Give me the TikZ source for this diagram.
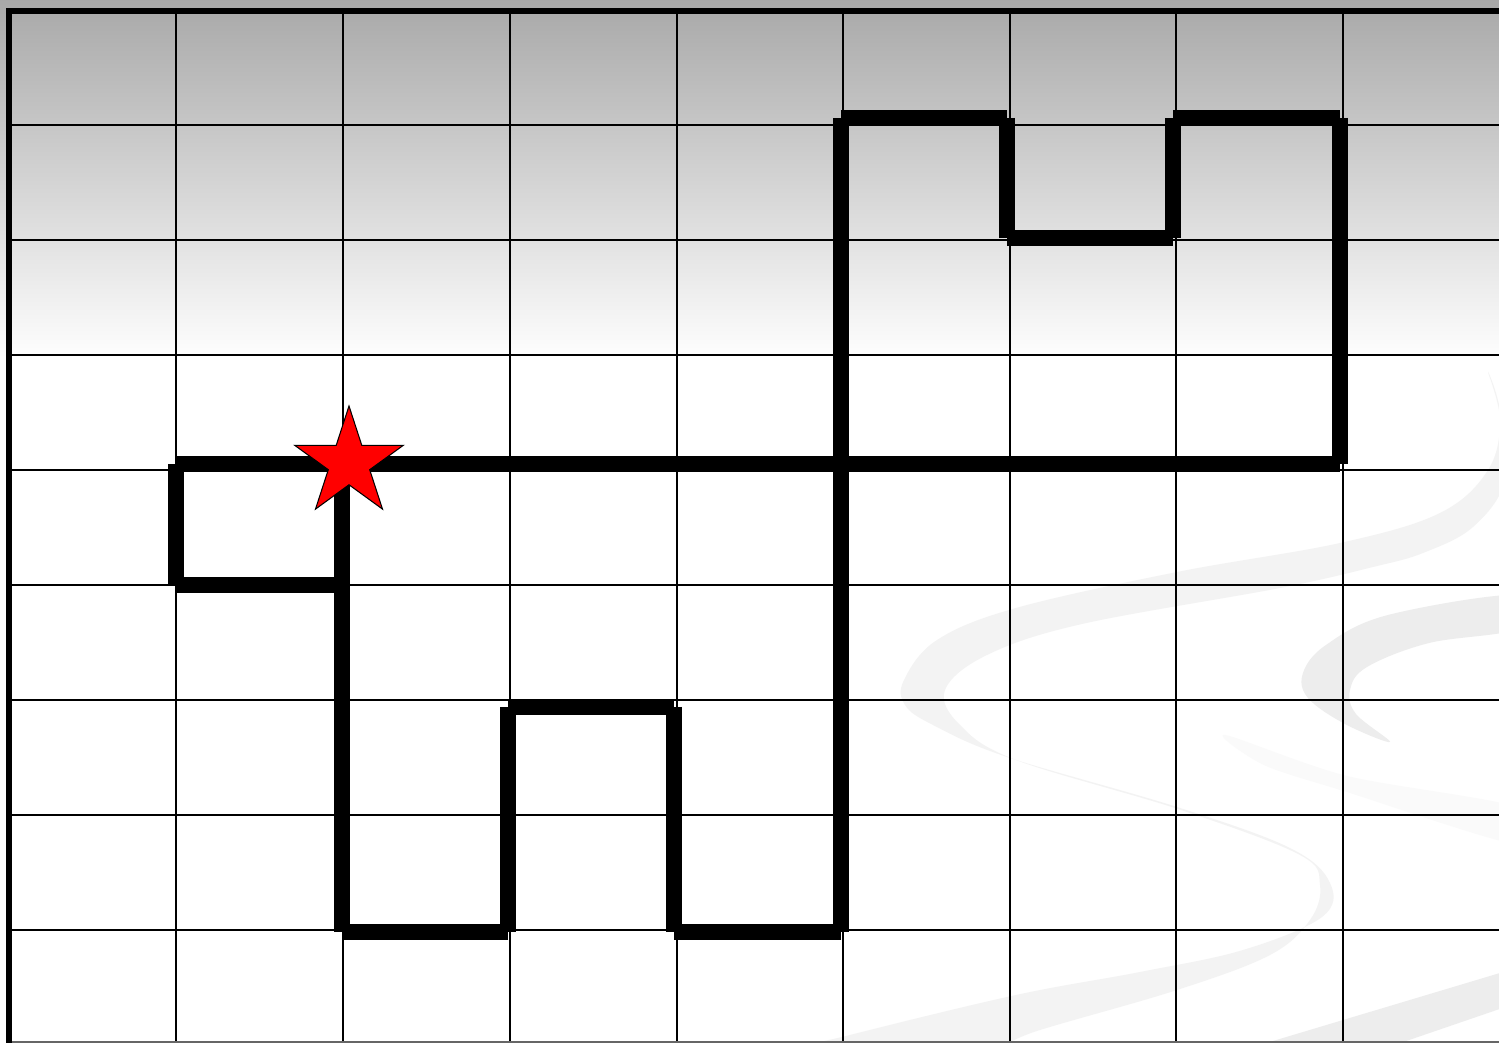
\documentclass[tikz,border=0pt]{standalone}
\usepackage{xcolor}
\usetikzlibrary{shapes.geometric}
\definecolor{mSwoosh}{HTML}{F3F3F3}
\definecolor{mSwooshDark}{HTML}{EDEDED}
\definecolor{mSwooshFaint}{HTML}{FAFAFA}
\begin{document}
\begin{tikzpicture}[x=0.02cm, y=-0.02cm,
  gridline/.style={line width=1.4pt, black},
  frameline/.style={line width=3.4pt, black, line join=miter},
  route/.style={line width=8.8pt, black, line cap=butt},
  swoosh/.style={fill=#1, draw=none},
  swoosh/.default=mSwoosh,
  startmark/.style={star, star points=5, star point ratio=2.618, minimum size=2.28cm,
                    inner sep=0pt, fill=red, draw=black, line width=0.6pt}]
  \useasboundingbox (0,0) rectangle (1499,1043);
  % background: grey fade at the top, white below
  \fill[white] (0,0) rectangle (1499,1043);
  \shade[top color=black!34, bottom color=white] (0,0) rectangle (1499,362);
  % faint swooshes in the lower right
  \begin{scope}
    \clip (9,11) rectangle (1499,1043);
    \fill[swoosh] plot[smooth cycle, tension=0.6] coordinates {
      (1488,372) (1500,420) (1488,470) (1440,513) (1340,543) (1177,572) (1016,608)
      (937,640) (904,680) (905,705) (933,725) (1007,757) (1177,807) (1290,848)
      (1330,883) (1322,917) (1243,950) (1140,972) (1016,995) (850,1035) (760,1060)
      (950,1060) (1040,1030) (1177,990) (1270,955) (1310,920) (1320,885) (1300,855)
      (1181,810) (1016,760) (960,725) (945,690) (987,655) (1082,624) (1280,588)
      (1373,567) (1423,553) (1473,527) (1505,480) (1500,410)};
    \fill[swoosh=mSwooshDark] plot[smooth cycle, tension=0.6] coordinates {
      (1520,595) (1388,615) (1326,645) (1303,673) (1308,698) (1345,724) (1390,742)
      (1356,714) (1350,690) (1367,667) (1429,643) (1520,628)};
    \fill[swoosh=mSwooshFaint] plot[smooth cycle, tension=0.5] coordinates {
      (1225,735) (1347,776) (1520,808) (1520,845) (1347,792) (1264,765)};
    \fill[swoosh=mSwooshDark] (1520,967) -- (1243,1050) -- (1380,1050) -- (1520,1002) -- cycle;
  \end{scope}
  % grid
  \foreach \gx in {176,343,510,677,843,1010,1176,1343}
    \draw[gridline] (\gx,11) -- (\gx,1043);
  \foreach \gy in {125,240,355,470,585,700,815,930}
    \draw[gridline] (9,\gy) -- (1499,\gy);
  \draw[black!60, line width=0.8pt] (9,1042) -- (1499,1042);
  \draw[frameline] (9,1043) -- (9,11) -- (1499,11);
  % corners of the route
  \coordinate (a) at (176,464);
  \coordinate (b) at (176,585);
  \coordinate (c) at (342,585);
  \coordinate (s) at (342,464);
  \coordinate (d) at (342,932);
  \coordinate (e) at (508,932);
  \coordinate (f) at (508,707);
  \coordinate (g) at (674,707);
  \coordinate (h) at (674,932);
  \coordinate (i) at (841,932);
  \coordinate (j) at (841,118);
  \coordinate (k) at (1007,118);
  \coordinate (l) at (1007,238);
  \coordinate (m) at (1173,238);
  \coordinate (n) at (1173,118);
  \coordinate (o) at (1340,118);
  \coordinate (p) at (1340,464);
  % route, one stroke per side
  \foreach \from/\to in {a/p, a/b, b/c, s/d, d/e, f/e, f/g, g/h, h/i, i/j,
                         j/k, k/l, l/m, m/n, n/o, o/p}
    \draw[route] (\from) -- (\to);
  % start
  \node[startmark] (start) at (349,463) {};
\end{tikzpicture}
\end{document}
